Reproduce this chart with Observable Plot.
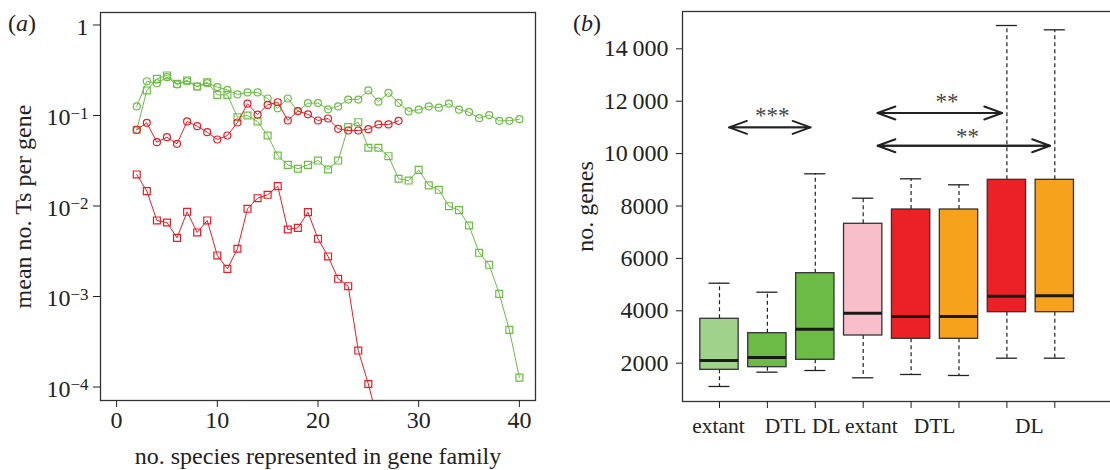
<!DOCTYPE html>
<html>
<head>
<meta charset="utf-8">
<script src="https://cdn.jsdelivr.net/npm/d3@7"></script>
<script src="https://cdn.jsdelivr.net/npm/@observablehq/plot@0.6"></script>
<style>
html,body{margin:0;padding:0;background:#fff;overflow:hidden;}
#root{position:relative;width:1110px;height:470px;overflow:hidden;font-family:"Liberation Serif","Times New Roman",serif;color:#222;}
#pa{position:absolute;left:0;top:0;width:555px;height:470px;}
#pb{position:absolute;left:555px;top:0;width:575px;height:470px;}
#pa svg,#pb svg{max-width:none !important;}
.tag{position:absolute;font-size:24px;line-height:24px;color:#222;}
</style>
</head>
<body>
<div id="root">
  <div id="pa"></div>
  <div id="pb"></div>
  <div class="tag" style="left:8px;top:11px">(<i>a</i>)</div>
  <div class="tag" style="left:573px;top:11px">(<i>b</i>)</div>
</div>
<script>
// ---------- Panel (a) data ----------
const nSpecies = [2,3,4,5,6,7,8,9,10,11,12,13,14,15,16,17,18,19,20,21,22,23,24,25,26,27,28,29,30,31,32,33,34,35,36,37,38,39,40];
const greenCircleMean = [0.126,0.239,0.227,0.265,0.220,0.239,0.209,0.227,0.206,0.192,0.171,0.180,0.180,0.154,0.120,0.154,0.112,0.137,0.137,0.117,0.126,0.150,0.150,0.189,0.142,0.178,0.138,0.111,0.116,0.126,0.122,0.135,0.116,0.109,0.0934,0.101,0.0874,0.0874,0.0911];
const greenSquareMean = [0.0695,0.189,0.254,0.277,0.224,0.244,0.209,0.233,0.169,0.169,0.0958,0.100,0.0859,0.0601,0.0361,0.0285,0.0258,0.0285,0.0318,0.0253,0.0318,0.0743,0.0843,0.0440,0.0440,0.0355,0.0200,0.0191,0.0251,0.0169,0.0151,0.00995,0.00900,0.00609,0.00304,0.00224,0.00107,0.000428,0.000127];
const redCircleMean = [0.0695,0.0830,0.0507,0.0576,0.0486,0.0859,0.0762,0.0654,0.0543,0.0601,0.0837,0.135,0.102,0.131,0.140,0.0881,0.112,0.103,0.0881,0.0927,0.0713,0.0683,0.0683,0.0706,0.0796,0.0796,0.0874];
const redSquareMean = [0.0223,0.0146,0.00692,0.00657,0.00445,0.00863,0.00510,0.00692,0.00284,0.00202,0.00337,0.00931,0.0122,0.0133,0.0166,0.00550,0.00574,0.00855,0.00434,0.00277,0.00157,0.00130,0.000253,0.000108,0.00004];
const xTicksA = [0,10,20,30,40];
const yTicksA = [1,0.1,0.01,0.001,0.0001];
const xTitleA = "no. species represented in gene family";
const yTitleA = "mean no. Ts per gene";

// ---------- Panel (b) data ----------
const boxPos  = [1,2,3,4,5,6,7,8];
const boxLow  = [1111,1657,1721,1443,1569,1531,2191,2191];
const boxQ1   = [1748,1847,2130,3057,2931,2931,3947,3947];
const boxMed  = [2103,2218,3298,3909,3782,3782,4557,4570];
const boxQ3   = [3695,3145,5435,7321,7866,7866,9000,9000];
const boxHigh = [5053,4710,9229,8298,9038,8809,14889,14725];
const catLabels = ["extant","DTL","DL","extant","DTL","DL"];
const catLabelPos = [0.98,2.38,3.23,4.17,5.49,7.47];
const yTicksB = [2000,4000,6000,8000,10000,12000,14000];
const yTitleB = "no. genes";
const arrowFrom = [1.2,4.3,4.3];
const arrowTo   = [2.9,6.9,7.9];
const arrowY    = [11000,11550,10300];
const starText  = ["***","**","**"];
const starX     = [2.1,5.75,6.18];
const starY     = [11450,12000,10650];

// ---------- styles ----------
const FONT = '"Liberation Serif","Times New Roman",serif';
const GREEN = "#6cbd45", RED = "#ec1c24";
const boxFill = ["#a0d28c","#6bbb46","#6bbb46","#f8bfcb","#ec2027","#f7a21d","#ec2027","#f7a21d"];
const INK = "#222";

// ---------- Panel (a) ----------
const seriesA = [
  {values: greenCircleMean, color: GREEN, symbol: "circle"},
  {values: greenSquareMean, color: GREEN, symbol: "square"},
  {values: redCircleMean, color: RED, symbol: "circle"},
  {values: redSquareMean, color: RED, symbol: "square"}
];
const marksA = seriesA.flatMap(s => {
  const d = s.values.map((v, i) => ({x: nSpecies[i], y: v}));
  return [
    Plot.line(d, {x: "x", y: "y", stroke: s.color, strokeWidth: 1, clip: true}),
    Plot.dot(d, {x: "x", y: "y", symbol: s.symbol, r: s.symbol === "square" ? 3.9 : 3.5,
      stroke: s.color, strokeWidth: 1.2, fill: "none", clip: true})
  ];
});

const plotA = Plot.plot({
  width: 555, height: 470,
  marginTop: 12, marginRight: 20, marginBottom: 70, marginLeft: 100,
  style: {fontFamily: FONT, fontSize: "24px", color: INK, background: "transparent", overflow: "visible"},
  x: {domain: [-1.6, 41.6]},
  y: {type: "log", domain: [Math.pow(10, -4.149), Math.pow(10, 0.138)]},
  marks: [
    ...marksA,
    Plot.frame({stroke: "#333", strokeWidth: 1.3}),
    Plot.axisX({ticks: xTicksA, tickSize: 7, tickPadding: 3, label: null, tickFormat: d => String(d)}),
    Plot.axisY({ticks: yTicksA, tickSize: 7, tickPadding: 5, label: null,
      tickFormat: d => d === 1 ? "1" : "10^\u2212" + Math.round(-Math.log10(d))}),
    Plot.text([xTitleA], {text: d => d, frameAnchor: "bottom", lineAnchor: "bottom", dy: 63}),
    Plot.text([yTitleA], {text: d => d, frameAnchor: "left", textAnchor: "middle", rotate: -90, lineAnchor: "bottom", dx: -70})
  ]
});
d3.select(plotA).selectAll('g[aria-label="y-axis tick label"] text').each(function() {
  const t = this.textContent;
  const m = t.match(/^10\^(.+)$/);
  const sel = d3.select(this);
  if (m) {
    sel.text("10");
    sel.append("tspan").attr("dy", "-0.38em").attr("font-size", "17px").text(m[1]);
  }
  sel.attr("transform", (sel.attr("transform") || "") + " translate(0,2)");
});
document.getElementById("pa").appendChild(plotA);

// ---------- Panel (b) ----------
const boxes = boxPos.map((p, i) => ({pos: p, lo: boxLow[i], q1: boxQ1[i], med: boxMed[i], q3: boxQ3[i], hi: boxHigh[i], fill: boxFill[i]}));
const arrows = arrowFrom.map((f, i) => ({from: f, to: arrowTo[i], y: arrowY[i], stars: starText[i], sx: starX[i], sy: starY[i]}));
const catByPos = new Map(catLabelPos.map((p, i) => [p, catLabels[i]]));
const fmtB = d => d >= 10000 ? String(Math.floor(d / 1000)) + "\u2009" + String(d % 1000).padStart(3, "0") : String(d);

const plotB = Plot.plot({
  width: 575, height: 470,
  marginTop: 11, marginRight: 15, marginBottom: 69, marginLeft: 127,
  style: {fontFamily: FONT, fontSize: "24px", color: INK, background: "transparent", overflow: "visible"},
  x: {domain: [0.228, 9.267]},
  y: {domain: [538, 15424]},
  color: {type: "identity"},
  marks: [
    Plot.ruleX(boxes, {x: "pos", y1: "q3", y2: "hi", stroke: INK, strokeWidth: 1.2, strokeDasharray: "4,3"}),
    Plot.ruleX(boxes, {x: "pos", y1: "q1", y2: "lo", stroke: INK, strokeWidth: 1.2, strokeDasharray: "4,3"}),
    Plot.ruleY(boxes, {y: "hi", x1: d => d.pos - 0.22, x2: d => d.pos + 0.22, stroke: INK, strokeWidth: 1.3}),
    Plot.ruleY(boxes, {y: "lo", x1: d => d.pos - 0.22, x2: d => d.pos + 0.22, stroke: INK, strokeWidth: 1.3}),
    Plot.rect(boxes, {x1: d => d.pos - 0.4, x2: d => d.pos + 0.4, y1: "q1", y2: "q3", fill: "fill", stroke: "#333", strokeWidth: 1.3}),
    Plot.ruleY(boxes, {y: "med", x1: d => d.pos - 0.4, x2: d => d.pos + 0.4, stroke: "#1a1a1a", strokeWidth: 3}),
    Plot.arrow(arrows, {x1: "from", x2: "to", y1: "y", y2: "y", stroke: INK, strokeWidth: 1.9, headLength: 15, headAngle: 40}),
    Plot.arrow(arrows, {x1: "to", x2: "from", y1: "y", y2: "y", stroke: INK, strokeWidth: 1.9, headLength: 15, headAngle: 40}),
    Plot.text(arrows, {x: "sx", y: "sy", text: "stars", fill: "#444", fontSize: 23}),
    Plot.frame({stroke: "#333", strokeWidth: 1.3}),
    Plot.axisX({ticks: boxPos, tickSize: 7, label: null, tickFormat: () => ""}),
    Plot.axisY({ticks: yTicksB, tickSize: 6, tickPadding: 8, label: null, tickFormat: fmtB}),
    Plot.axisX({ticks: catLabelPos, tickSize: 0, tickPadding: 16, label: null, fontSize: 21.5, tickFormat: d => catByPos.get(d)}),
    Plot.text([yTitleB], {text: d => d, frameAnchor: "left", textAnchor: "middle", rotate: -90, lineAnchor: "bottom", dx: -90})
  ]
});
document.getElementById("pb").appendChild(plotB);
</script>
</body>
</html>
